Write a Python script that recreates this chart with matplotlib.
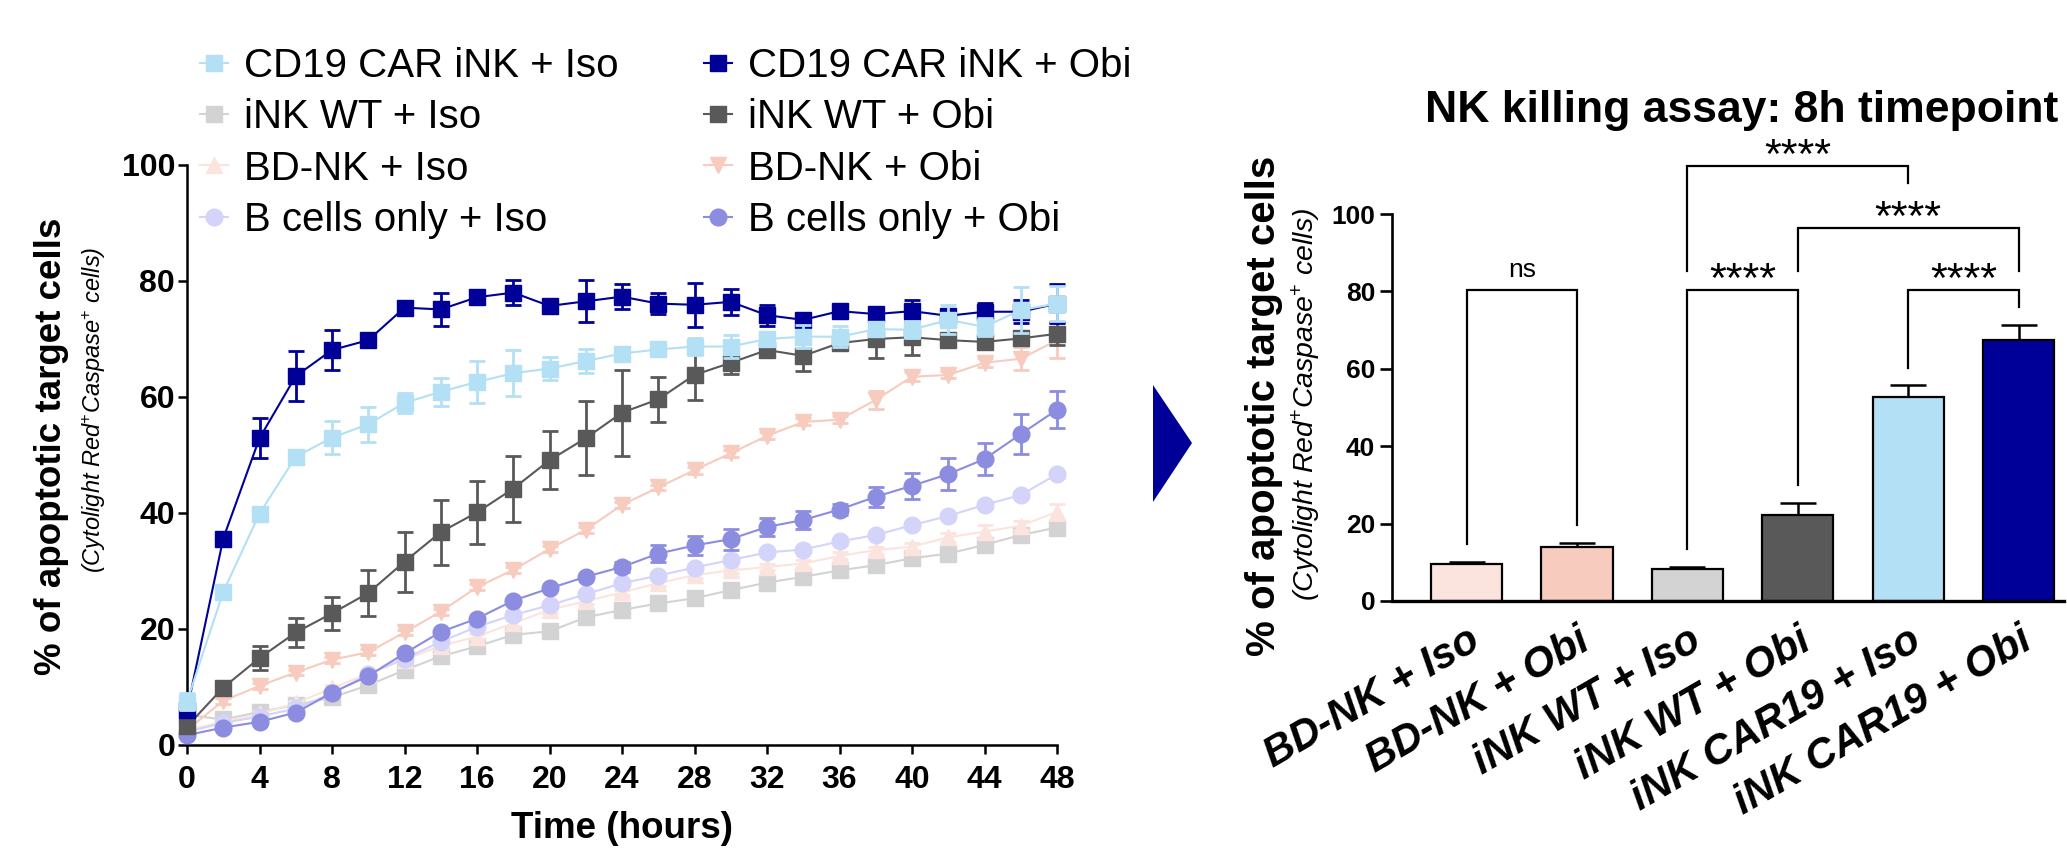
import matplotlib
matplotlib.use("Agg")
import matplotlib.pyplot as plt
from matplotlib.lines import Line2D
from matplotlib.patches import Polygon

plt.rcParams['font.family'] = ['Liberation Sans', 'DejaVu Sans']
plt.rcParams['mathtext.fontset'] = 'custom'
plt.rcParams['mathtext.rm'] = 'Liberation Sans'
plt.rcParams['mathtext.it'] = 'Liberation Sans:italic'
plt.rcParams['mathtext.bf'] = 'Liberation Sans:bold'

# ---------------- data: time course ----------------
hours = list(range(0, 49, 2))

car_iso = [7.5, 26.4, 39.9, 49.7, 53.0, 55.3, 59.0, 60.9, 62.6, 64.1, 64.9, 66.2, 67.5,
           68.2, 68.7, 68.7, 70.0, 70.4, 70.4, 71.7, 71.6, 73.3, 72.1, 75.0, 76.1]
car_iso_err = [1.5, 1.0, 1.0, 1.0, 2.8, 3.0, 1.7, 2.4, 3.6, 4.0, 2.0, 2.0, 1.0,
               1.0, 1.5, 2.0, 1.0, 2.0, 1.8, 1.0, 1.5, 2.5, 1.5, 4.0, 3.0]

car_obi = [6.0, 35.6, 52.9, 63.6, 68.1, 69.8, 75.4, 75.1, 77.2, 78.0, 75.7, 76.5, 77.3,
           76.1, 75.9, 76.4, 74.1, 73.3, 74.8, 74.3, 74.8, 74.0, 74.7, 74.7, 76.1]
car_obi_err = [1.0, 1.0, 3.4, 4.3, 3.5, 1.0, 1.2, 2.8, 1.0, 2.2, 1.0, 3.6, 2.1,
               1.8, 3.8, 2.3, 1.8, 0.8, 1.0, 1.2, 2.0, 1.0, 1.5, 2.0, 3.3]

wt_iso = [5.2, 4.4, 5.7, 6.9, 8.2, 10.3, 12.9, 15.3, 17.0, 19.0, 19.6, 22.0, 23.3,
          24.4, 25.3, 26.7, 28.0, 29.0, 30.1, 31.0, 32.2, 33.0, 34.5, 36.2, 37.5]
wt_iso_err = [0.5, 0.5, 0.5, 0.5, 0.5, 0.5, 0.5, 0.5, 0.5, 0.5, 0.5, 0.5, 0.5,
              0.5, 0.5, 0.5, 0.5, 0.5, 0.5, 0.5, 0.5, 0.5, 0.6, 0.6, 0.8]

wt_obi = [3.2, 9.9, 15.0, 19.4, 22.7, 26.2, 31.6, 36.7, 40.1, 44.2, 49.1, 52.9, 57.3,
          59.6, 63.8, 65.9, 68.1, 67.1, 69.3, 70.0, 70.3, 69.8, 69.5, 70.1, 70.9]
wt_obi_err = [0.5, 0.8, 2.0, 2.5, 2.9, 4.0, 5.2, 5.6, 5.5, 5.7, 5.0, 6.4, 7.4,
              3.9, 4.3, 2.0, 1.2, 2.7, 1.0, 3.3, 3.0, 1.0, 1.0, 1.0, 2.0]

bd_iso = [2.6, 4.0, 5.4, 7.2, 9.8, 12.3, 14.7, 17.1, 18.7, 21.0, 23.3, 24.8, 26.3,
          27.9, 29.3, 30.1, 30.7, 31.3, 32.6, 33.6, 34.2, 35.8, 36.8, 37.8, 40.2]
bd_iso_err = [0.4, 0.4, 0.4, 0.4, 0.5, 0.5, 0.5, 0.5, 0.5, 0.5, 0.5, 0.5, 0.5,
              0.5, 0.5, 0.5, 0.5, 0.6, 0.6, 0.6, 0.7, 0.8, 1.2, 0.8, 1.4]

bd_obi = [2.6, 7.6, 10.2, 12.5, 14.7, 16.0, 19.4, 23.0, 27.2, 30.2, 33.8, 37.1, 41.4,
          44.4, 47.4, 50.3, 53.3, 55.7, 56.1, 59.5, 63.5, 63.8, 65.9, 66.6, 69.8]
bd_obi_err = [0.4, 0.5, 0.5, 0.5, 0.5, 0.5, 0.5, 0.5, 0.5, 0.5, 0.5, 0.5, 0.5,
              0.5, 0.6, 0.6, 0.6, 0.6, 0.6, 1.5, 0.8, 0.6, 0.8, 2.0, 3.0]

b_iso = [2.3, 3.8, 4.9, 6.3, 8.9, 12.2, 14.9, 17.8, 20.4, 22.4, 24.1, 26.0, 27.9,
         29.2, 30.6, 31.9, 33.2, 33.7, 35.1, 36.2, 37.9, 39.5, 41.4, 43.1, 46.7]
b_iso_err = [0.3, 0.3, 0.3, 0.3, 0.4, 0.4, 0.4, 0.4, 0.4, 0.4, 0.4, 0.4, 0.5,
             0.5, 0.5, 0.5, 0.5, 0.5, 0.5, 0.5, 0.5, 0.5, 0.5, 0.5, 0.6]

b_obi = [1.7, 3.0, 4.0, 5.6, 9.0, 11.9, 15.8, 19.5, 21.8, 24.9, 27.0, 29.0, 30.7,
         33.0, 34.4, 35.5, 37.6, 38.8, 40.6, 42.8, 44.7, 46.7, 49.3, 53.6, 57.8]
b_obi_err = [0.3, 0.3, 0.3, 0.3, 0.3, 0.3, 0.3, 0.3, 0.3, 0.3, 0.3, 0.3, 0.8,
             1.5, 1.7, 1.8, 1.5, 1.6, 1.0, 1.7, 2.2, 2.7, 2.8, 3.5, 3.2]

series_names = ['CD19 CAR iNK + Iso', 'iNK WT + Iso', 'BD-NK + Iso', 'B cells only + Iso',
                'CD19 CAR iNK + Obi', 'iNK WT + Obi', 'BD-NK + Obi', 'B cells only + Obi']
series_vals = [car_iso, wt_iso, bd_iso, b_iso, car_obi, wt_obi, bd_obi, b_obi]
series_errs = [car_iso_err, wt_iso_err, bd_iso_err, b_iso_err,
               car_obi_err, wt_obi_err, bd_obi_err, b_obi_err]
series_colors = ['#B3E0F4', '#D3D3D3', '#FCE4DE', '#D4D4FA',
                 '#000099', '#595959', '#F7CBBE', '#8C8CE0']
series_markers = ['s', 's', '^', 'o', 's', 's', 'v', 'o']
series_ms = [11, 11, 12, 12, 11, 11, 12, 12]
series_z = [9, 3, 4, 5, 8, 7, 6, 6.5]

# ---------------- data: 8h bars ----------------
bar_labels = ['BD-NK + Iso', 'BD-NK + Obi', 'iNK WT + Iso', 'iNK WT + Obi',
              'iNK CAR19 + Iso', 'iNK CAR19 + Obi']
bar_means = [9.5, 13.9, 8.2, 22.1, 52.6, 67.5]
bar_sem = [0.7, 1.2, 0.7, 3.3, 3.1, 3.9]
bar_colors = ['#FCE4DE', '#F7CBBE', '#D3D3D3', '#595959', '#B3E0F4', '#000099']

comparisons = [(0, 1, 'ns'), (2, 3, '****'), (4, 5, '****'), (3, 5, '****'), (2, 4, '****')]
bracket_levels = [80.4, 80.4, 80.4, 96.4, 112.3]

# ---------------- figure ----------------
W, H = 2067, 848
fig = plt.figure(figsize=(W / 100, H / 100), dpi=100)


def px_axes(l, t, r, b):
    return fig.add_axes([l / W, 1 - b / H, (r - l) / W, (b - t) / H])


def fx(x):
    return x / W


def fy(y):
    return 1 - y / H


# ---- left: time course ----
ax1 = px_axes(187, 165, 1057, 745)
for name, vals, errs, c, m, ms, z in zip(series_names, series_vals, series_errs,
                                          series_colors, series_markers, series_ms, series_z):
    cont = ax1.errorbar(hours, vals, yerr=errs, color=c, marker=m, ms=ms, mec=c, lw=1.5,
                        elinewidth=2.0, capsize=5.5, capthick=2.0, zorder=z)
    for art in cont.get_children():
        art.set_clip_on(False)

ax1.set_xlim(0, 48)
ax1.set_ylim(0, 100)
ax1.set_xticks(range(0, 49, 4))
ax1.set_yticks(range(0, 101, 20))
for s in ['top', 'right']:
    ax1.spines[s].set_visible(False)
for s in ['left', 'bottom']:
    ax1.spines[s].set_linewidth(1.8)
ax1.tick_params(axis='both', width=1.8, length=6.5, labelsize=23)
ax1.tick_params(axis='y', pad=2)
ax1.tick_params(axis='x', pad=8)
for lab in ax1.get_xticklabels() + ax1.get_yticklabels():
    lab.set_fontweight('bold')

fig.text(fx(622), fy(838), 'Time (hours)', ha='center', va='baseline',
         fontsize=26.5, fontweight='bold')
fig.text(fx(52), fy(446), '% of apoptotic target cells', rotation=90, ha='center',
         va='center', fontsize=26.5, fontweight='bold')
fig.text(fx(94), fy(410), r'(Cytolight Red$^{+}$Caspase$^{+}$ cells)', rotation=90,
         ha='center', va='center', fontsize=17, fontstyle='italic')

handles = [Line2D([0], [0], color=c, marker=m, ms=ms, mec=c, lw=1.5)
           for c, m, ms in zip(series_colors, series_markers, series_ms)]
fig.legend(handles, series_names, ncol=2, loc='upper left',
           bbox_to_anchor=(fx(200), fy(47)), frameon=False, fontsize=29,
           handlelength=0.7, handletextpad=0.4, labelspacing=0.33,
           columnspacing=2.1, borderpad=0, borderaxespad=0)

# ---- arrow ----
fig.add_artist(Polygon([[fx(1153), fy(385)], [fx(1192), fy(443)], [fx(1153), fy(502)]],
                       closed=True, transform=fig.transFigure, color='#000099', lw=0))

# ---- right: bar chart ----
ax2 = px_axes(1392, 214, 2064, 601)
xpos = list(range(len(bar_means)))
ax2.bar(xpos, bar_means, width=0.645, color=bar_colors, edgecolor='black',
        linewidth=1.6, zorder=2)
ax2.errorbar(xpos, bar_means, yerr=[[0] * len(bar_sem), bar_sem], fmt='none',
             ecolor='black', elinewidth=1.8, capsize=13, capthick=1.8, zorder=1)
ax2.set_xlim(-0.675, 5.41)
ax2.set_ylim(0, 100)
ax2.set_yticks(range(0, 101, 20))
for s in ['top', 'right']:
    ax2.spines[s].set_visible(False)
ax2.spines['left'].set_linewidth(1.9)
ax2.spines['bottom'].set_linewidth(2.4)
ax2.tick_params(axis='y', width=1.9, length=8.6, labelsize=19, pad=3.5)
ax2.set_xticks(xpos)
ax2.set_xticklabels(bar_labels, rotation=30, ha='right', rotation_mode='anchor',
                    fontsize=30, fontweight='bold', fontstyle='italic')
ax2.tick_params(axis='x', length=0, pad=14)
for lab in ax2.get_yticklabels():
    lab.set_fontweight('bold')

tops = [m + e for m, e in zip(bar_means, bar_sem)]
for (i, j, txt), h in zip(comparisons, bracket_levels):
    if h < 90:
        yi, yj = tops[i] + 4.5, tops[j] + 4.5
    elif h < 100:
        yi, yj = 85.2, 85.2
    else:
        yi, yj = 85.2, 108.0
    ax2.plot([i, i, j, j], [yi, h, h, yj], color='black', lw=1.6, clip_on=False,
             solid_joinstyle='miter')
    if txt == 'ns':
        ax2.text((i + j) / 2, h + 3.3, txt, ha='center', va='baseline', fontsize=19,
                 clip_on=False)
    else:
        ax2.text((i + j) / 2, h - 0.5, txt, ha='center', va='baseline', fontsize=31,
                 clip_on=False)

fig.text(fx(1742), fy(122), 'NK killing assay: 8h timepoint', ha='center', va='baseline',
         fontsize=32, fontweight='bold')
fig.text(fx(1264), fy(406), '% of apoptotic target cells', rotation=90, ha='center',
         va='center', fontsize=29, fontweight='bold')
fig.text(fx(1306), fy(404), r'(Cytolight Red$^{+}$Caspase$^{+}$ cells)', rotation=90,
         ha='center', va='center', fontsize=20.5, fontstyle='italic')

fig.savefig('out.png', dpi=100)
